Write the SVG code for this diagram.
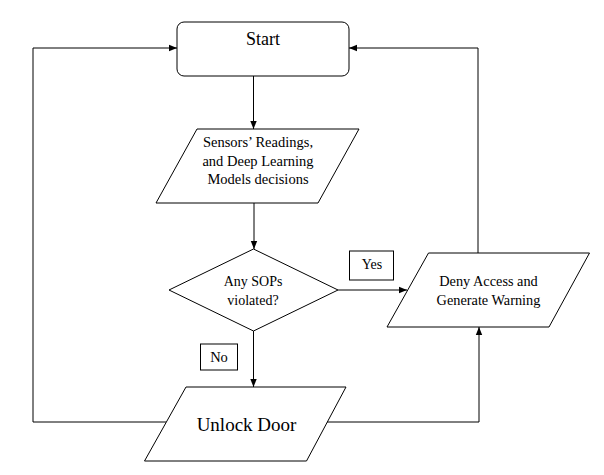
<svg xmlns="http://www.w3.org/2000/svg" width="604" height="475" viewBox="0 0 604 475">
<style>
.s{fill:#fff;stroke:#000;stroke-width:1}
.c{fill:none;stroke:#000;stroke-width:1}
text{font-family:"Liberation Serif","Times New Roman",serif;fill:#000;text-anchor:middle}
</style>
<defs>
<marker id="a" viewBox="0 0 8 8" refX="8" refY="4" markerWidth="8" markerHeight="8" markerUnits="userSpaceOnUse" orient="auto">
<path d="M0,0.8 L8,4 L0,7.2 Z" fill="#000"/>
</marker>
</defs>
<rect width="604" height="475" fill="#fff"/>
<g id="connectors">
<path class="c" d="M253.5,76 V129" marker-end="url(#a)"/>
<path class="c" d="M254,203 V249" marker-end="url(#a)"/>
<path class="c" d="M338,290 H407" marker-end="url(#a)"/>
<path class="c" d="M253.5,331 V387" marker-end="url(#a)"/>
<path class="c" d="M166,422 H33 V48 H177" marker-end="url(#a)"/>
<path class="c" d="M327,422 H479 V327" marker-end="url(#a)"/>
<path class="c" d="M478,253 V48 H349" marker-end="url(#a)"/>
</g>
<g id="start">
<rect class="s" x="177" y="22" width="172" height="54" rx="7"/>
<text x="263" y="45" font-size="18">Start</text>
</g>
<g id="input">
<polygon class="s" points="197,129 359,129 318,203 156,203"/>
<text x="258" y="147" font-size="14.5">Sensors’ Readings,</text>
<text x="258" y="165.5" font-size="14.5">and Deep Learning</text>
<text x="258" y="184" font-size="14.5">Models decisions</text>
</g>
<g id="decision">
<polygon class="s" points="253.5,249 338,290 253.5,331 169,290"/>
<text x="253" y="286" font-size="14">Any SOPs</text>
<text x="253" y="305" font-size="14">violated?</text>
</g>
<g id="yes-label">
<rect class="s" x="349.5" y="251" width="44" height="29"/>
<text x="372" y="268.5" font-size="14">Yes</text>
</g>
<g id="deny">
<polygon class="s" points="428.5,253 589.5,253 549,327 387,327"/>
<text x="488.5" y="286" font-size="14.3">Deny Access and</text>
<text x="488.5" y="305" font-size="14.3">Generate Warning</text>
</g>
<g id="no-label">
<rect class="s" x="200.5" y="344" width="37" height="26"/>
<text x="219" y="362" font-size="14.5">No</text>
</g>
<g id="unlock">
<polygon class="s" points="186,387 346,387 306.5,461 144.5,461"/>
<text x="246.5" y="431" font-size="19">Unlock Door</text>
</g>
</svg>
